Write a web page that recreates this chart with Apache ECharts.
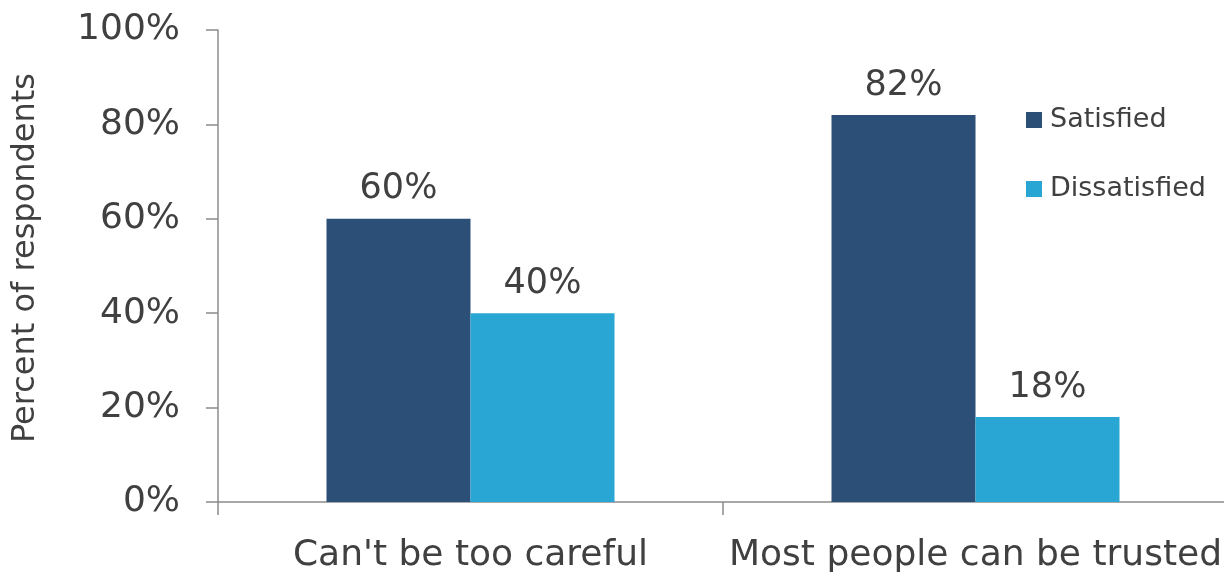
<!DOCTYPE html>
<html>
<head>
<meta charset="utf-8">
<script src="https://cdn.jsdelivr.net/npm/echarts@6/dist/echarts.min.js"></script>
<style>
  html, body { margin: 0; padding: 0; background: #fff; }
  #chart { width: 1224px; height: 574px; }
</style>
</head>
<body>
<div id="chart"></div>
<script>
// Survey results: satisfaction by trust attitude
const categories = ["Can't be too careful", "Most people can be trusted"];
const satisfied = [60, 82];
const dissatisfied = [40, 18];
const seriesNames = ['Satisfied', 'Dissatisfied'];

const textColor = '#404040';
const axisColor = '#8c8c8c';
const fontFamily = '"DejaVu Sans", sans-serif';

const chart = echarts.init(document.getElementById('chart'), null, { renderer: 'canvas' });

const barLabel = {
  show: true,
  position: 'top',
  distance: 12,
  color: textColor,
  fontSize: 35,
  fontFamily: fontFamily,
  formatter: p => p.value + '%'
};

chart.setOption({
  animation: false,
  backgroundColor: '#ffffff',
  // plot runs slightly past the right edge of the canvas
  grid: { left: 218, width: 1010, top: 30, bottom: 72, containLabel: false, outerBoundsMode: 'none' },
  legend: {
    orient: 'vertical',
    left: 1021,
    top: 100,
    itemWidth: 16,
    itemHeight: 16,
    itemGap: 39,
    icon: 'rect',
    data: seriesNames,
    textStyle: { color: textColor, fontSize: 27, fontFamily: fontFamily, lineHeight: 30, padding: [0, 0, 0, 3] }
  },
  xAxis: {
    type: 'category',
    data: categories,
    axisLine: { show: true, lineStyle: { color: axisColor, width: 1.5 } },
    axisTick: { show: true, length: 13, lineStyle: { color: axisColor, width: 1.5 } },
    axisLabel: { color: textColor, fontSize: 36, fontFamily: fontFamily, margin: 36, interval: 0, hideOverlap: false }
  },
  yAxis: {
    type: 'value',
    min: 0,
    max: 100,
    interval: 20,
    name: 'Percent of respondents',
    nameLocation: 'middle',
    nameGap: 176,
    nameTextStyle: { color: textColor, fontSize: 32, fontFamily: fontFamily, padding: [0, 0, 0, 16] },
    axisLine: { show: true, lineStyle: { color: axisColor, width: 1.5 } },
    axisTick: { show: true, length: 12, lineStyle: { color: axisColor, width: 1.5 } },
    splitLine: { show: false },
    axisLabel: { color: textColor, fontSize: 36, fontFamily: fontFamily, margin: 38, formatter: '{value}%' }
  },
  series: [
    {
      name: seriesNames[0],
      type: 'bar',
      data: satisfied,
      barWidth: 144,
      barGap: '0%',
      itemStyle: { color: '#2c4f77' },
      label: barLabel
    },
    {
      name: seriesNames[1],
      type: 'bar',
      data: dissatisfied,
      barWidth: 144,
      barGap: '0%',
      itemStyle: { color: '#29a6d3' },
      label: barLabel
    }
  ]
});
</script>
</body>
</html>
